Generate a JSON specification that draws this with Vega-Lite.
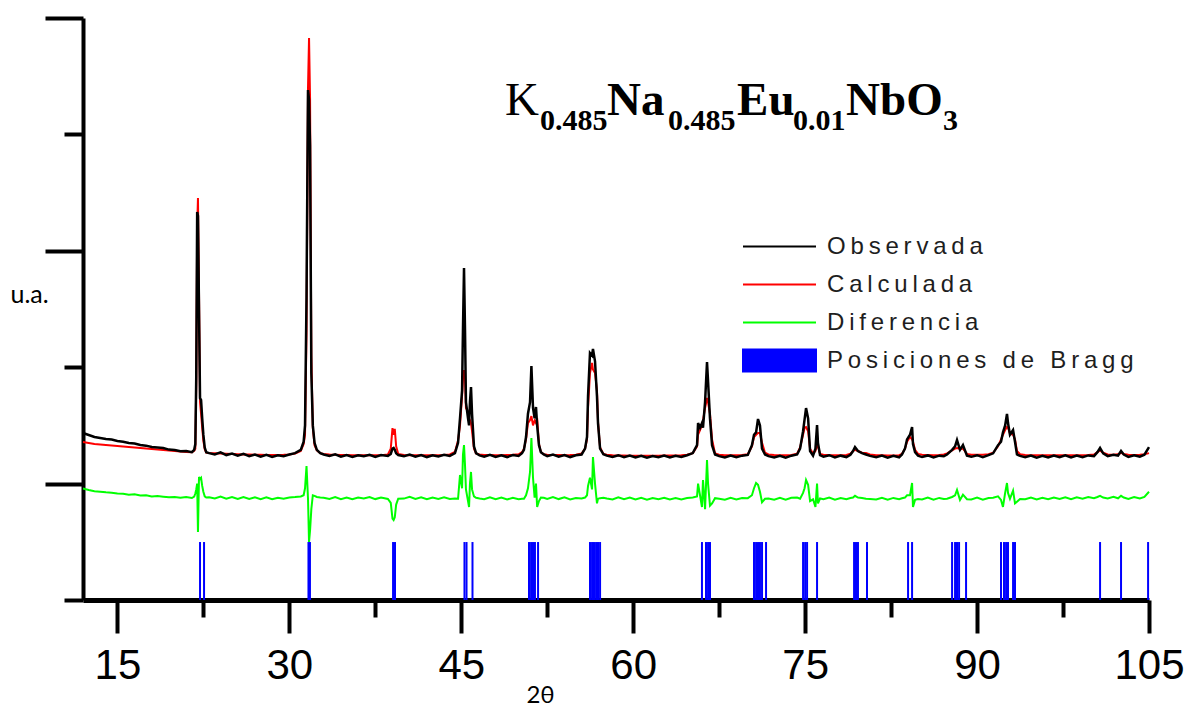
{
  "$schema": "https://vega.github.io/schema/vega-lite/v6.json",
  "width": 1066,
  "height": 582,
  "autosize": {"type": "none"},
  "padding": {"left": 83, "top": 18, "right": 47, "bottom": 109},
  "background": "white",
  "config": {"view": {"stroke": null}},
  "datasets": {
    "curvas": [
      {"t": 12.0, "obs": 1435, "calc": 1357, "dif": 958},
      {"t": 12.5, "obs": 1418, "calc": 1349, "dif": 945},
      {"t": 13.0, "obs": 1400, "calc": 1340, "dif": 935},
      {"t": 13.5, "obs": 1392, "calc": 1335, "dif": 930},
      {"t": 14.0, "obs": 1383, "calc": 1331, "dif": 925},
      {"t": 14.5, "obs": 1378, "calc": 1327, "dif": 922},
      {"t": 15.0, "obs": 1366, "calc": 1323, "dif": 915},
      {"t": 15.5, "obs": 1360, "calc": 1318, "dif": 912},
      {"t": 16.0, "obs": 1349, "calc": 1314, "dif": 905},
      {"t": 16.5, "obs": 1345, "calc": 1310, "dif": 908},
      {"t": 17.0, "obs": 1331, "calc": 1306, "dif": 898},
      {"t": 17.5, "obs": 1326, "calc": 1301, "dif": 900},
      {"t": 18.0, "obs": 1314, "calc": 1297, "dif": 890},
      {"t": 18.5, "obs": 1310, "calc": 1293, "dif": 893},
      {"t": 19.0, "obs": 1306, "calc": 1289, "dif": 888},
      {"t": 19.5, "obs": 1292, "calc": 1284, "dif": 882},
      {"t": 20.0, "obs": 1289, "calc": 1280, "dif": 885},
      {"t": 20.5, "obs": 1278, "calc": 1276, "dif": 878},
      {"t": 21.0, "obs": 1280, "calc": 1272, "dif": 884},
      {"t": 21.5, "obs": 1270, "calc": 1270, "dif": 876},
      {"t": 21.70, "obs": 1290, "calc": 1282, "dif": 888},
      {"t": 21.80, "obs": 1340, "calc": 1300, "dif": 915},
      {"t": 21.88, "obs": 1915, "calc": 1850, "dif": 950},
      {"t": 21.96, "obs": 3333, "calc": 3200, "dif": 1000},
      {"t": 22.03, "obs": 3300, "calc": 3453, "dif": 584},
      {"t": 22.12, "obs": 2500, "calc": 2650, "dif": 1057},
      {"t": 22.21, "obs": 1735, "calc": 1700, "dif": 1040},
      {"t": 22.30, "obs": 1720, "calc": 1600, "dif": 1050},
      {"t": 22.40, "obs": 1560, "calc": 1480, "dif": 980},
      {"t": 22.50, "obs": 1420, "calc": 1370, "dif": 930},
      {"t": 22.62, "obs": 1310, "calc": 1295, "dif": 890},
      {"t": 22.75, "obs": 1270, "calc": 1266, "dif": 880},
      {"t": 23.0, "obs": 1262, "calc": 1262, "dif": 882},
      {"t": 23.5, "obs": 1250, "calc": 1260, "dif": 872},
      {"t": 24.0, "obs": 1268, "calc": 1258, "dif": 888},
      {"t": 24.5, "obs": 1245, "calc": 1256, "dif": 870},
      {"t": 25.0, "obs": 1258, "calc": 1254, "dif": 884},
      {"t": 25.5, "obs": 1240, "calc": 1252, "dif": 868},
      {"t": 26.0, "obs": 1255, "calc": 1250, "dif": 885},
      {"t": 26.5, "obs": 1236, "calc": 1249, "dif": 868},
      {"t": 27.0, "obs": 1250, "calc": 1248, "dif": 882},
      {"t": 27.5, "obs": 1232, "calc": 1247, "dif": 866},
      {"t": 28.0, "obs": 1248, "calc": 1246, "dif": 882},
      {"t": 28.5, "obs": 1230, "calc": 1246, "dif": 866},
      {"t": 29.0, "obs": 1244, "calc": 1246, "dif": 878},
      {"t": 29.5, "obs": 1235, "calc": 1247, "dif": 870},
      {"t": 30.0, "obs": 1250, "calc": 1250, "dif": 880},
      {"t": 30.5, "obs": 1262, "calc": 1258, "dif": 884},
      {"t": 31.0, "obs": 1290, "calc": 1280, "dif": 890},
      {"t": 31.25, "obs": 1360, "calc": 1340, "dif": 900},
      {"t": 31.37, "obs": 1500, "calc": 1420, "dif": 960},
      {"t": 31.50, "obs": 2600, "calc": 2300, "dif": 1151},
      {"t": 31.63, "obs": 4381, "calc": 4400, "dif": 870},
      {"t": 31.72, "obs": 4300, "calc": 4828, "dif": 498},
      {"t": 31.81, "obs": 3900, "calc": 4300, "dif": 600},
      {"t": 31.92, "obs": 1950, "calc": 2100, "dif": 780},
      {"t": 32.05, "obs": 1500, "calc": 1480, "dif": 900},
      {"t": 32.20, "obs": 1350, "calc": 1330, "dif": 895},
      {"t": 32.40, "obs": 1290, "calc": 1285, "dif": 885},
      {"t": 32.70, "obs": 1262, "calc": 1262, "dif": 880},
      {"t": 33.0, "obs": 1250, "calc": 1254, "dif": 878},
      {"t": 33.5, "obs": 1238, "calc": 1250, "dif": 868},
      {"t": 34.0, "obs": 1252, "calc": 1248, "dif": 884},
      {"t": 34.5, "obs": 1232, "calc": 1246, "dif": 866},
      {"t": 35.0, "obs": 1246, "calc": 1245, "dif": 881},
      {"t": 35.5, "obs": 1230, "calc": 1244, "dif": 866},
      {"t": 36.0, "obs": 1244, "calc": 1243, "dif": 881},
      {"t": 36.5, "obs": 1236, "calc": 1243, "dif": 873},
      {"t": 37.0, "obs": 1248, "calc": 1243, "dif": 885},
      {"t": 37.5, "obs": 1230, "calc": 1243, "dif": 867},
      {"t": 38.0, "obs": 1245, "calc": 1244, "dif": 881},
      {"t": 38.6, "obs": 1238, "calc": 1250, "dif": 868},
      {"t": 38.85, "obs": 1255, "calc": 1300, "dif": 835},
      {"t": 39.00, "obs": 1300, "calc": 1477, "dif": 700},
      {"t": 39.10, "obs": 1306, "calc": 1420, "dif": 687},
      {"t": 39.20, "obs": 1290, "calc": 1470, "dif": 710},
      {"t": 39.32, "obs": 1260, "calc": 1320, "dif": 820},
      {"t": 39.50, "obs": 1245, "calc": 1255, "dif": 870},
      {"t": 40.0, "obs": 1236, "calc": 1245, "dif": 871},
      {"t": 40.5, "obs": 1250, "calc": 1244, "dif": 886},
      {"t": 41.0, "obs": 1232, "calc": 1243, "dif": 869},
      {"t": 41.5, "obs": 1246, "calc": 1243, "dif": 883},
      {"t": 42.0, "obs": 1228, "calc": 1243, "dif": 865},
      {"t": 42.5, "obs": 1244, "calc": 1243, "dif": 881},
      {"t": 43.0, "obs": 1233, "calc": 1244, "dif": 869},
      {"t": 43.5, "obs": 1248, "calc": 1246, "dif": 882},
      {"t": 44.0, "obs": 1238, "calc": 1250, "dif": 868},
      {"t": 44.45, "obs": 1262, "calc": 1272, "dif": 872},
      {"t": 44.72, "obs": 1350, "calc": 1370, "dif": 870},
      {"t": 44.89, "obs": 1560, "calc": 1500, "dif": 1074},
      {"t": 45.07, "obs": 1800, "calc": 1750, "dif": 960},
      {"t": 45.15, "obs": 2330, "calc": 1900, "dif": 1250},
      {"t": 45.24, "obs": 2852, "calc": 1976, "dif": 1331},
      {"t": 45.33, "obs": 2300, "calc": 1900, "dif": 1150},
      {"t": 45.41, "obs": 1700, "calc": 1650, "dif": 950},
      {"t": 45.59, "obs": 1560, "calc": 1620, "dif": 850},
      {"t": 45.68, "obs": 1500, "calc": 1560, "dif": 799},
      {"t": 45.76, "obs": 1700, "calc": 1546, "dif": 1000},
      {"t": 45.85, "obs": 1830, "calc": 1520, "dif": 1100},
      {"t": 45.94, "obs": 1600, "calc": 1450, "dif": 950},
      {"t": 46.11, "obs": 1320, "calc": 1300, "dif": 890},
      {"t": 46.29, "obs": 1262, "calc": 1260, "dif": 878},
      {"t": 46.6, "obs": 1242, "calc": 1250, "dif": 872},
      {"t": 47.0, "obs": 1232, "calc": 1246, "dif": 866},
      {"t": 47.5, "obs": 1248, "calc": 1245, "dif": 883},
      {"t": 48.0, "obs": 1230, "calc": 1244, "dif": 866},
      {"t": 48.5, "obs": 1244, "calc": 1244, "dif": 880},
      {"t": 49.0, "obs": 1228, "calc": 1245, "dif": 863},
      {"t": 49.5, "obs": 1245, "calc": 1247, "dif": 878},
      {"t": 50.0, "obs": 1238, "calc": 1252, "dif": 866},
      {"t": 50.3, "obs": 1262, "calc": 1270, "dif": 870},
      {"t": 50.47, "obs": 1290, "calc": 1300, "dif": 870},
      {"t": 50.65, "obs": 1400, "calc": 1380, "dif": 900},
      {"t": 50.82, "obs": 1600, "calc": 1520, "dif": 960},
      {"t": 51.00, "obs": 1700, "calc": 1546, "dif": 1100},
      {"t": 51.12, "obs": 2010, "calc": 1580, "dif": 1392},
      {"t": 51.26, "obs": 1650, "calc": 1500, "dif": 1050},
      {"t": 51.40, "obs": 1560, "calc": 1540, "dif": 880},
      {"t": 51.52, "obs": 1658, "calc": 1520, "dif": 1000},
      {"t": 51.62, "obs": 1500, "calc": 1560, "dif": 800},
      {"t": 51.78, "obs": 1330, "calc": 1340, "dif": 850},
      {"t": 51.95, "obs": 1270, "calc": 1270, "dif": 880},
      {"t": 52.2, "obs": 1250, "calc": 1252, "dif": 878},
      {"t": 52.5, "obs": 1236, "calc": 1248, "dif": 868},
      {"t": 53.0, "obs": 1250, "calc": 1246, "dif": 884},
      {"t": 53.5, "obs": 1232, "calc": 1245, "dif": 867},
      {"t": 54.0, "obs": 1246, "calc": 1244, "dif": 882},
      {"t": 54.5, "obs": 1228, "calc": 1245, "dif": 864},
      {"t": 55.0, "obs": 1244, "calc": 1248, "dif": 876},
      {"t": 55.5, "obs": 1250, "calc": 1258, "dif": 872},
      {"t": 55.8, "obs": 1300, "calc": 1300, "dif": 880},
      {"t": 55.97, "obs": 1400, "calc": 1380, "dif": 900},
      {"t": 56.06, "obs": 1750, "calc": 1650, "dif": 980},
      {"t": 56.23, "obs": 2122, "calc": 1950, "dif": 1050},
      {"t": 56.41, "obs": 2100, "calc": 2036, "dif": 950},
      {"t": 56.49, "obs": 2156, "calc": 1980, "dif": 1228},
      {"t": 56.67, "obs": 2050, "calc": 1950, "dif": 1000},
      {"t": 56.84, "obs": 1750, "calc": 1800, "dif": 830},
      {"t": 56.93, "obs": 1520, "calc": 1530, "dif": 870},
      {"t": 57.11, "obs": 1300, "calc": 1310, "dif": 875},
      {"t": 57.4, "obs": 1252, "calc": 1255, "dif": 878},
      {"t": 57.7, "obs": 1240, "calc": 1248, "dif": 872},
      {"t": 58.2, "obs": 1228, "calc": 1244, "dif": 864},
      {"t": 58.7, "obs": 1244, "calc": 1242, "dif": 882},
      {"t": 59.2, "obs": 1226, "calc": 1241, "dif": 865},
      {"t": 59.7, "obs": 1240, "calc": 1240, "dif": 880},
      {"t": 60.2, "obs": 1224, "calc": 1240, "dif": 864},
      {"t": 60.7, "obs": 1238, "calc": 1240, "dif": 878},
      {"t": 61.2, "obs": 1222, "calc": 1240, "dif": 862},
      {"t": 61.7, "obs": 1236, "calc": 1240, "dif": 876},
      {"t": 62.2, "obs": 1226, "calc": 1240, "dif": 866},
      {"t": 62.7, "obs": 1240, "calc": 1241, "dif": 879},
      {"t": 63.2, "obs": 1224, "calc": 1241, "dif": 863},
      {"t": 63.7, "obs": 1238, "calc": 1242, "dif": 876},
      {"t": 64.2, "obs": 1228, "calc": 1244, "dif": 864},
      {"t": 64.7, "obs": 1244, "calc": 1248, "dif": 876},
      {"t": 65.2, "obs": 1262, "calc": 1262, "dif": 880},
      {"t": 65.57, "obs": 1330, "calc": 1320, "dif": 890},
      {"t": 65.66, "obs": 1520, "calc": 1420, "dif": 1000},
      {"t": 65.83, "obs": 1480, "calc": 1460, "dif": 900},
      {"t": 66.00, "obs": 1520, "calc": 1500, "dif": 799},
      {"t": 66.09, "obs": 1480, "calc": 1540, "dif": 1030},
      {"t": 66.27, "obs": 1700, "calc": 1650, "dif": 780},
      {"t": 66.44, "obs": 2044, "calc": 1735, "dif": 1202},
      {"t": 66.53, "obs": 1880, "calc": 1700, "dif": 1000},
      {"t": 66.70, "obs": 1560, "calc": 1600, "dif": 810},
      {"t": 66.88, "obs": 1330, "calc": 1380, "dif": 830},
      {"t": 67.14, "obs": 1250, "calc": 1260, "dif": 875},
      {"t": 67.5, "obs": 1236, "calc": 1248, "dif": 870},
      {"t": 68.0, "obs": 1224, "calc": 1244, "dif": 862},
      {"t": 68.5, "obs": 1240, "calc": 1243, "dif": 878},
      {"t": 69.0, "obs": 1226, "calc": 1243, "dif": 864},
      {"t": 69.5, "obs": 1240, "calc": 1245, "dif": 876},
      {"t": 70.0, "obs": 1246, "calc": 1252, "dif": 875},
      {"t": 70.36, "obs": 1330, "calc": 1320, "dif": 900},
      {"t": 70.54, "obs": 1420, "calc": 1400, "dif": 960},
      {"t": 70.72, "obs": 1440, "calc": 1420, "dif": 1005},
      {"t": 70.89, "obs": 1555, "calc": 1435, "dif": 990},
      {"t": 71.06, "obs": 1500, "calc": 1435, "dif": 930},
      {"t": 71.24, "obs": 1300, "calc": 1350, "dif": 840},
      {"t": 71.50, "obs": 1250, "calc": 1265, "dif": 870},
      {"t": 71.8, "obs": 1236, "calc": 1250, "dif": 872},
      {"t": 72.3, "obs": 1224, "calc": 1246, "dif": 862},
      {"t": 72.8, "obs": 1238, "calc": 1244, "dif": 878},
      {"t": 73.3, "obs": 1222, "calc": 1244, "dif": 862},
      {"t": 73.8, "obs": 1240, "calc": 1246, "dif": 878},
      {"t": 74.3, "obs": 1250, "calc": 1256, "dif": 880},
      {"t": 74.56, "obs": 1300, "calc": 1310, "dif": 870},
      {"t": 74.82, "obs": 1450, "calc": 1420, "dif": 920},
      {"t": 74.95, "obs": 1550, "calc": 1480, "dif": 960},
      {"t": 75.08, "obs": 1649, "calc": 1486, "dif": 1031},
      {"t": 75.26, "obs": 1560, "calc": 1450, "dif": 990},
      {"t": 75.43, "obs": 1280, "calc": 1300, "dif": 850},
      {"t": 75.69, "obs": 1240, "calc": 1260, "dif": 865},
      {"t": 75.90, "obs": 1300, "calc": 1280, "dif": 800},
      {"t": 76.04, "obs": 1503, "calc": 1330, "dif": 1000},
      {"t": 76.12, "obs": 1350, "calc": 1320, "dif": 830},
      {"t": 76.30, "obs": 1245, "calc": 1255, "dif": 872},
      {"t": 76.6, "obs": 1232, "calc": 1248, "dif": 866},
      {"t": 77.1, "obs": 1244, "calc": 1245, "dif": 880},
      {"t": 77.6, "obs": 1224, "calc": 1244, "dif": 862},
      {"t": 78.1, "obs": 1240, "calc": 1244, "dif": 876},
      {"t": 78.6, "obs": 1228, "calc": 1246, "dif": 866},
      {"t": 78.95, "obs": 1248, "calc": 1256, "dif": 876},
      {"t": 79.18, "obs": 1280, "calc": 1280, "dif": 880},
      {"t": 79.35, "obs": 1314, "calc": 1290, "dif": 895},
      {"t": 79.61, "obs": 1280, "calc": 1280, "dif": 880},
      {"t": 79.96, "obs": 1262, "calc": 1265, "dif": 877},
      {"t": 80.31, "obs": 1250, "calc": 1262, "dif": 870},
      {"t": 80.66, "obs": 1238, "calc": 1250, "dif": 868},
      {"t": 81.2, "obs": 1226, "calc": 1244, "dif": 864},
      {"t": 81.7, "obs": 1240, "calc": 1243, "dif": 878},
      {"t": 82.2, "obs": 1222, "calc": 1242, "dif": 862},
      {"t": 82.7, "obs": 1238, "calc": 1242, "dif": 877},
      {"t": 83.2, "obs": 1226, "calc": 1244, "dif": 866},
      {"t": 83.45, "obs": 1250, "calc": 1256, "dif": 874},
      {"t": 83.71, "obs": 1300, "calc": 1300, "dif": 880},
      {"t": 83.89, "obs": 1380, "calc": 1360, "dif": 900},
      {"t": 84.15, "obs": 1420, "calc": 1400, "dif": 900},
      {"t": 84.33, "obs": 1486, "calc": 1380, "dif": 1005},
      {"t": 84.41, "obs": 1340, "calc": 1360, "dif": 800},
      {"t": 84.59, "obs": 1270, "calc": 1290, "dif": 860},
      {"t": 84.85, "obs": 1240, "calc": 1255, "dif": 868},
      {"t": 85.2, "obs": 1228, "calc": 1247, "dif": 864},
      {"t": 85.7, "obs": 1242, "calc": 1245, "dif": 880},
      {"t": 86.2, "obs": 1224, "calc": 1244, "dif": 862},
      {"t": 86.7, "obs": 1240, "calc": 1245, "dif": 877},
      {"t": 87.1, "obs": 1236, "calc": 1250, "dif": 868},
      {"t": 87.38, "obs": 1250, "calc": 1260, "dif": 870},
      {"t": 87.82, "obs": 1290, "calc": 1285, "dif": 885},
      {"t": 88.08, "obs": 1320, "calc": 1300, "dif": 900},
      {"t": 88.25, "obs": 1374, "calc": 1306, "dif": 945},
      {"t": 88.51, "obs": 1290, "calc": 1300, "dif": 860},
      {"t": 88.77, "obs": 1331, "calc": 1300, "dif": 905},
      {"t": 89.12, "obs": 1240, "calc": 1255, "dif": 866},
      {"t": 89.5, "obs": 1230, "calc": 1248, "dif": 864},
      {"t": 90.0, "obs": 1244, "calc": 1247, "dif": 880},
      {"t": 90.5, "obs": 1226, "calc": 1248, "dif": 862},
      {"t": 91.0, "obs": 1244, "calc": 1252, "dif": 876},
      {"t": 91.4, "obs": 1260, "calc": 1265, "dif": 878},
      {"t": 91.83, "obs": 1330, "calc": 1320, "dif": 890},
      {"t": 92.09, "obs": 1360, "calc": 1380, "dif": 860},
      {"t": 92.26, "obs": 1440, "calc": 1420, "dif": 800},
      {"t": 92.45, "obs": 1500, "calc": 1460, "dif": 920},
      {"t": 92.61, "obs": 1598, "calc": 1486, "dif": 1005},
      {"t": 92.70, "obs": 1520, "calc": 1480, "dif": 920},
      {"t": 92.87, "obs": 1420, "calc": 1430, "dif": 870},
      {"t": 93.14, "obs": 1460, "calc": 1420, "dif": 940},
      {"t": 93.31, "obs": 1360, "calc": 1380, "dif": 830},
      {"t": 93.48, "obs": 1250, "calc": 1280, "dif": 845},
      {"t": 93.75, "obs": 1238, "calc": 1252, "dif": 868},
      {"t": 94.2, "obs": 1226, "calc": 1246, "dif": 866},
      {"t": 94.7, "obs": 1240, "calc": 1244, "dif": 880},
      {"t": 95.2, "obs": 1222, "calc": 1243, "dif": 864},
      {"t": 95.7, "obs": 1238, "calc": 1243, "dif": 878},
      {"t": 96.2, "obs": 1224, "calc": 1243, "dif": 866},
      {"t": 96.7, "obs": 1240, "calc": 1243, "dif": 880},
      {"t": 97.2, "obs": 1226, "calc": 1243, "dif": 868},
      {"t": 97.7, "obs": 1242, "calc": 1243, "dif": 882},
      {"t": 98.2, "obs": 1224, "calc": 1243, "dif": 866},
      {"t": 98.7, "obs": 1240, "calc": 1244, "dif": 882},
      {"t": 99.2, "obs": 1226, "calc": 1244, "dif": 870},
      {"t": 99.7, "obs": 1242, "calc": 1245, "dif": 884},
      {"t": 100.2, "obs": 1236, "calc": 1250, "dif": 874},
      {"t": 100.5, "obs": 1270, "calc": 1270, "dif": 885},
      {"t": 100.73, "obs": 1306, "calc": 1285, "dif": 895},
      {"t": 101.0, "obs": 1260, "calc": 1265, "dif": 880},
      {"t": 101.4, "obs": 1236, "calc": 1250, "dif": 872},
      {"t": 101.9, "obs": 1248, "calc": 1248, "dif": 886},
      {"t": 102.3, "obs": 1240, "calc": 1252, "dif": 874},
      {"t": 102.56, "obs": 1280, "calc": 1265, "dif": 895},
      {"t": 102.8, "obs": 1250, "calc": 1255, "dif": 880},
      {"t": 103.2, "obs": 1230, "calc": 1247, "dif": 868},
      {"t": 103.7, "obs": 1244, "calc": 1246, "dif": 884},
      {"t": 104.2, "obs": 1232, "calc": 1247, "dif": 872},
      {"t": 104.6, "obs": 1248, "calc": 1252, "dif": 886},
      {"t": 105.0, "obs": 1314, "calc": 1262, "dif": 930}
    ],
    "bragg": [
      {"t": 22.21}, {"t": 22.56},
      {"t": 31.67}, {"t": 31.80},
      {"t": 39.05}, {"t": 39.22},
      {"t": 45.28}, {"t": 45.46}, {"t": 45.98},
      {"t": 50.91}, {"t": 51.09}, {"t": 51.26}, {"t": 51.43}, {"t": 51.70},
      {"t": 56.23}, {"t": 56.41}, {"t": 56.58}, {"t": 56.76}, {"t": 56.93}, {"t": 57.11},
      {"t": 66.00}, {"t": 66.35}, {"t": 66.53}, {"t": 66.70},
      {"t": 70.54}, {"t": 70.72}, {"t": 70.89}, {"t": 71.06}, {"t": 71.24}, {"t": 71.59},
      {"t": 74.82}, {"t": 75.00}, {"t": 75.17}, {"t": 76.04},
      {"t": 79.27}, {"t": 79.44}, {"t": 79.61}, {"t": 80.40},
      {"t": 83.98}, {"t": 84.33},
      {"t": 87.82}, {"t": 88.08}, {"t": 88.25}, {"t": 88.43}, {"t": 89.04},
      {"t": 92.09}, {"t": 92.35}, {"t": 92.53}, {"t": 92.70}, {"t": 93.14}, {"t": 93.31},
      {"t": 100.73}, {"t": 102.56}, {"t": 104.92}
    ]
  },
  "layer": [
    {
      "data": {"name": "bragg"},
      "mark": {"type": "rule", "strokeWidth": 2},
      "encoding": {
        "x": {
          "field": "t",
          "type": "quantitative",
          "title": "2θ",
          "scale": {"domain": [12, 105], "nice": false, "zero": false},
          "axis": {
            "titleFont": "Lato, DejaVu Sans",
            "titleFontSize": 24,
            "titleFontWeight": "normal",
            "titleColor": "black",
            "titleX": 457,
            "titleY": 95,
            "titleAlign": "center",
            "titleBaseline": "middle",
            "values": [15, 22.5, 30, 37.5, 45, 52.5, 60, 67.5, 75, 82.5, 90, 97.5, 105],
            "labelExpr": "datum.value % 15 === 0 ? datum.label : ''",
            "labelFont": "Liberation Sans",
            "labelFontSize": 42,
            "labelColor": "black",
            "labelPadding": 12,
            "labelFlush": false,
            "labelOverlap": false,
            "tickSize": {"condition": {"test": "datum.value % 15 === 0", "value": 33}, "value": 17},
            "tickWidth": 4,
            "tickColor": "black",
            "domainColor": "black",
            "domainWidth": 5,
            "grid": false
          }
        },
        "y": {
          "datum": 0,
          "type": "quantitative",
          "title": "u.a.",
          "scale": {"domain": [0, 5000], "nice": false, "zero": false},
          "axis": {
            "titleAngle": 0,
            "titleX": -73,
            "titleY": 276,
            "titleAlign": "left",
            "titleBaseline": "middle",
            "titleFont": "Lato, DejaVu Sans",
            "titleFontSize": 25,
            "titleFontWeight": "normal",
            "titleColor": "black",
            "values": [0, 1000, 2000, 3000, 4000, 5000],
            "labels": false,
            "tickSize": {"condition": {"test": "datum.value % 2000 === 1000", "value": 38}, "value": 19},
            "tickWidth": 4,
            "tickColor": "black",
            "domainColor": "black",
            "domainWidth": 4,
            "grid": false
          }
        },
        "y2": {"datum": 498},
        "color": {
          "datum": "Posiciones de Bragg",
          "type": "nominal",
          "scale": {
            "domain": ["Observada", "Calculada", "Diferencia", "Posiciones de Bragg"],
            "range": ["#000000", "#ff0000", "#00ff00", "#0000ff"]
          },
          "legend": {
            "title": null,
            "orient": "none",
            "legendX": 677,
            "legendY": 209,
            "padding": 0,
            "symbolSize": 1332,
            "symbolStrokeWidth": 2,
            "labelOffset": 28,
            "rowPadding": 6,
            "labelFont": "Liberation Sans",
            "labelFontSize": 24,
            "labelColor": "#1e1e1e",
            "labelLimit": 0,
            "labelExpr": "replace(datum.label, regexp('(.)(?!$)', 'g'), '$1\u2009')",
            "encode": {
              "symbols": {
                "update": {
                  "shape": {"signal": "datum.value === 'Posiciones de Bragg' ? 'M-2,-0.6H2V0.6H-2Z' : 'M-2,0H2'"},
                  "fill": {"signal": "datum.value === 'Posiciones de Bragg' ? '#0000ff' : 'transparent'"},
                  "stroke": {"signal": "scale('color', datum.value)"},
                  "strokeWidth": {"value": 2},
                  "opacity": {"value": 1}
                }
              }
            }
          }
        }
      }
    },
    {
      "data": {"name": "curvas"},
      "mark": {"type": "line", "strokeWidth": 2},
      "encoding": {
        "x": {"field": "t", "type": "quantitative", "title": "2θ"},
        "y": {"field": "calc", "type": "quantitative", "title": "u.a."},
        "color": {"datum": "Calculada", "type": "nominal"}
      }
    },
    {
      "data": {"name": "curvas"},
      "mark": {"type": "line", "strokeWidth": 2.5},
      "encoding": {
        "x": {"field": "t", "type": "quantitative", "title": "2θ"},
        "y": {"field": "obs", "type": "quantitative", "title": "u.a."},
        "color": {"datum": "Observada", "type": "nominal"}
      }
    },
    {
      "data": {"name": "curvas"},
      "mark": {"type": "line", "strokeWidth": 2},
      "encoding": {
        "x": {"field": "t", "type": "quantitative", "title": "2θ"},
        "y": {"field": "dif", "type": "quantitative", "title": "u.a."},
        "color": {"datum": "Diferencia", "type": "nominal"}
      }
    },
    {
      "data": {"values": [{}]},
      "mark": {"type": "text", "text": "K", "font": "Liberation Serif", "fontSize": 47, "fontWeight": "normal", "align": "left", "baseline": "alphabetic", "color": "black"},
      "encoding": {"x": {"datum": 48.82, "type": "quantitative", "title": "2θ"}, "y": {"datum": 4167, "type": "quantitative", "title": "u.a."}}
    },
    {
      "data": {"values": [{}]},
      "mark": {"type": "text", "text": "0.485", "font": "Liberation Serif", "fontSize": 30, "fontWeight": "bold", "align": "left", "baseline": "alphabetic", "color": "black"},
      "encoding": {"x": {"datum": 51.87, "type": "quantitative", "title": "2θ"}, "y": {"datum": 4038, "type": "quantitative", "title": "u.a."}}
    },
    {
      "data": {"values": [{}]},
      "mark": {"type": "text", "text": "Na", "font": "Liberation Serif", "fontSize": 47, "fontWeight": "bold", "align": "left", "baseline": "alphabetic", "color": "black"},
      "encoding": {"x": {"datum": 57.71, "type": "quantitative", "title": "2θ"}, "y": {"datum": 4167, "type": "quantitative", "title": "u.a."}}
    },
    {
      "data": {"values": [{}]},
      "mark": {"type": "text", "text": "0.485", "font": "Liberation Serif", "fontSize": 30, "fontWeight": "bold", "align": "left", "baseline": "alphabetic", "color": "black"},
      "encoding": {"x": {"datum": 63.04, "type": "quantitative", "title": "2θ"}, "y": {"datum": 4038, "type": "quantitative", "title": "u.a."}}
    },
    {
      "data": {"values": [{}]},
      "mark": {"type": "text", "text": "Eu", "font": "Liberation Serif", "fontSize": 47, "fontWeight": "bold", "align": "left", "baseline": "alphabetic", "color": "black"},
      "encoding": {"x": {"datum": 69.06, "type": "quantitative", "title": "2θ"}, "y": {"datum": 4167, "type": "quantitative", "title": "u.a."}}
    },
    {
      "data": {"values": [{}]},
      "mark": {"type": "text", "text": "0.01", "font": "Liberation Serif", "fontSize": 30, "fontWeight": "bold", "align": "left", "baseline": "alphabetic", "color": "black"},
      "encoding": {"x": {"datum": 73.94, "type": "quantitative", "title": "2θ"}, "y": {"datum": 4038, "type": "quantitative", "title": "u.a."}}
    },
    {
      "data": {"values": [{}]},
      "mark": {"type": "text", "text": "NbO", "font": "Liberation Serif", "fontSize": 47, "fontWeight": "bold", "align": "left", "baseline": "alphabetic", "color": "black"},
      "encoding": {"x": {"datum": 78.57, "type": "quantitative", "title": "2θ"}, "y": {"datum": 4167, "type": "quantitative", "title": "u.a."}}
    },
    {
      "data": {"values": [{}]},
      "mark": {"type": "text", "text": "3", "font": "Liberation Serif", "fontSize": 30, "fontWeight": "bold", "align": "left", "baseline": "alphabetic", "color": "black"},
      "encoding": {"x": {"datum": 87.03, "type": "quantitative", "title": "2θ"}, "y": {"datum": 4038, "type": "quantitative", "title": "u.a."}}
    }
  ]
}
